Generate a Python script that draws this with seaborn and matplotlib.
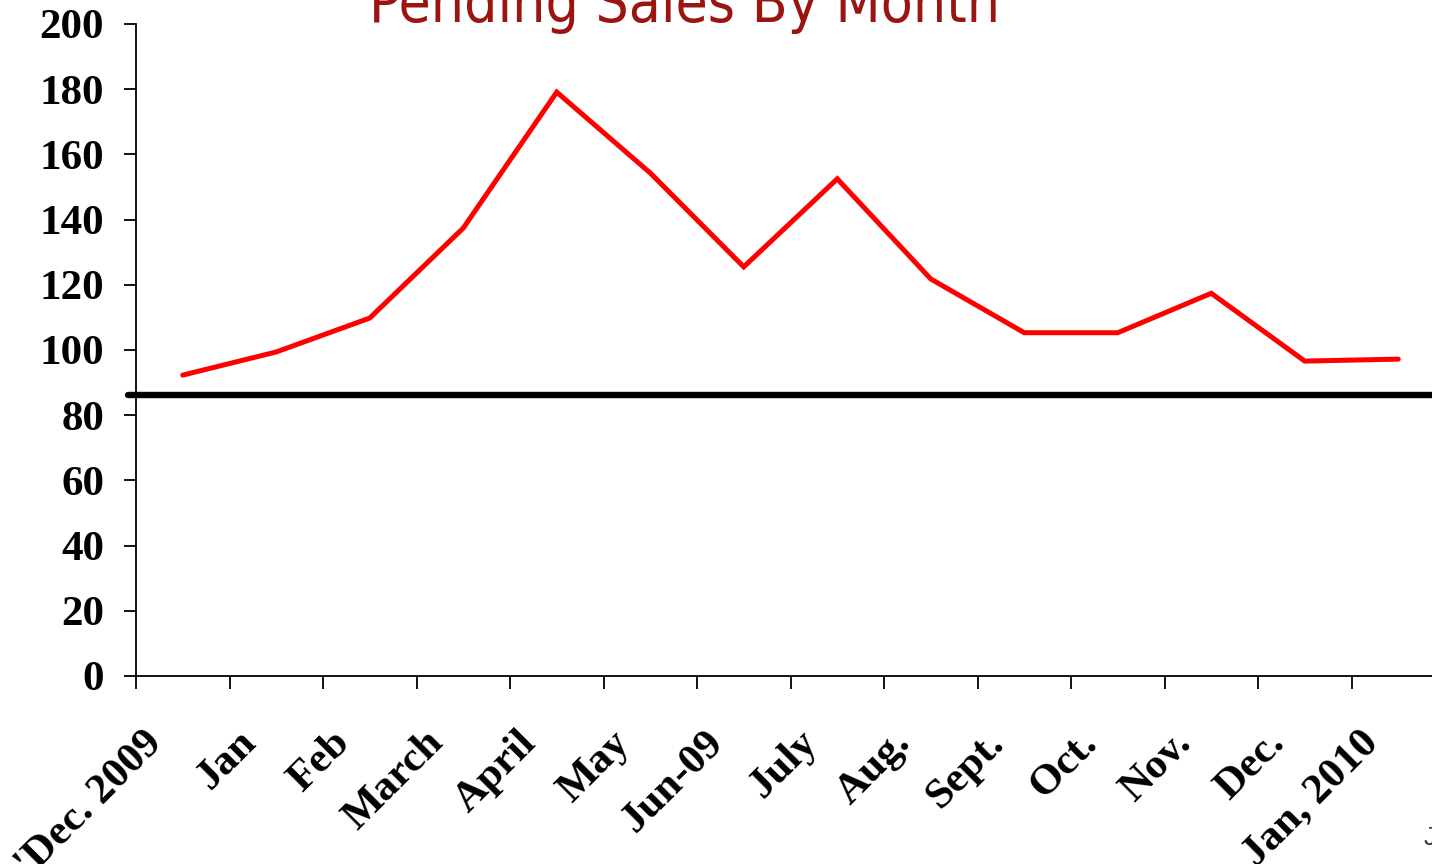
import numpy as np
import pandas as pd
import matplotlib
matplotlib.use("Agg")
import matplotlib.pyplot as plt
import matplotlib.transforms as mtransforms
import seaborn as sns

sns.set_style("white")

months = ["'Dec. 2009", "Jan", "Feb", "March", "April", "May", "Jun-09",
          "July", "Aug.", "Sept.", "Oct.", "Nov.", "Dec.", "Jan, 2010"]
pending = [92.3, 99.4, 109.8, 137.4, 179.1, 154.3, 125.5,
           152.5, 121.8, 105.3, 105.3, 117.4, 96.6, 97.2]
ref_level = 86.2
y_ticks = list(range(0, 201, 20))

df = pd.DataFrame({"pos": np.arange(len(months)), "sales": pending})

fig = plt.figure(figsize=(14.32, 8.64), dpi=100)
ax = fig.add_axes([136 / 1432, 188 / 864, (1445 - 136) / 1432, 652 / 864])

sns.lineplot(data=df, x="pos", y="sales", color="#ff0000", lw=3.6, ax=ax,
             solid_joinstyle="miter")
ax.axhline(ref_level, xmin=-8 / 1309, xmax=1, color="black", lw=4.6,
           clip_on=False, zorder=1)

ax.set_xlim(-0.5, len(months) - 0.5)
ax.set_ylim(0, 200)
ax.set_xlabel("")
ax.set_ylabel("")

for s in ["top", "right"]:
    ax.spines[s].set_visible(False)
for s in ["left", "bottom"]:
    ax.spines[s].set_linewidth(1.3)
    ax.spines[s].set_color("black")

serif = {"family": "Liberation Serif", "weight": "bold", "size": 31,
         "color": "black"}

ax.set_yticks(y_ticks)
ax.set_yticklabels([str(v) for v in y_ticks], fontdict=serif)
ax.tick_params(axis="y", direction="out", length=9, width=1.3, pad=14,
               left=True, color="black")

# category labels at centres, tick marks at boundaries
ax.set_xticks(np.arange(len(months)))
ax.set_xticklabels(months, fontdict=serif, rotation=45, ha="right",
                   va="center", rotation_mode="anchor")
ax.tick_params(axis="x", which="major", length=0, pad=44)
ax.set_xticks(np.arange(len(months)) - 0.5, minor=True)
ax.tick_params(axis="x", which="minor", direction="out", length=9,
               width=1.3, bottom=True, color="black")
shift = mtransforms.ScaledTranslation(-26 / 100, 0, fig.dpi_scale_trans)
for lab in ax.get_xticklabels():
    lab.set_transform(lab.get_transform() + shift)

fig.text(685 / 1432, 1 - 22 / 864, "Pending Sales By Month", ha="center",
         va="baseline", color="#9b1510", fontsize=42, fontstretch="condensed",
         fontweight="light", family=["DejaVu Sans", "Liberation Sans"])
fig.text(1424 / 1432, 1 - 845 / 864, "J", color="#333333", fontsize=18,
         family="Liberation Sans", ha="left", va="baseline")

fig.savefig("out.png", dpi=100)
